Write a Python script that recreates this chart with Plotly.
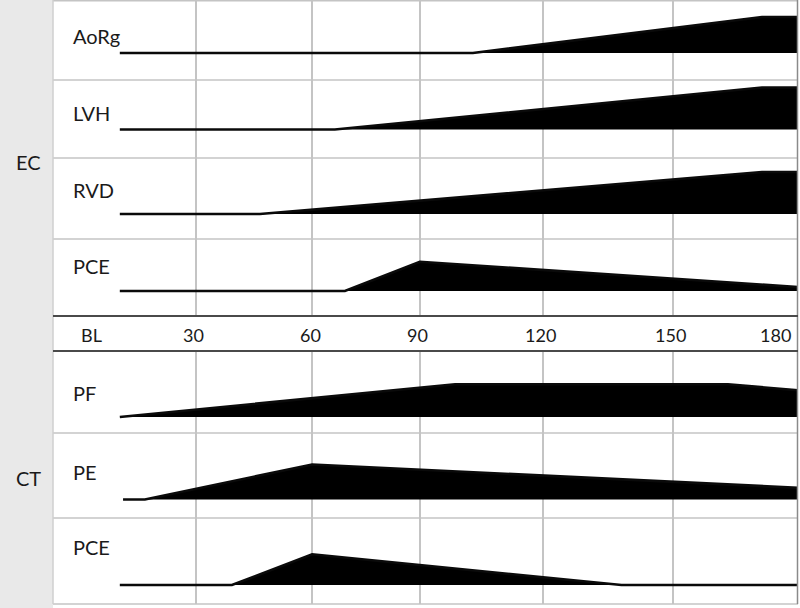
import plotly.graph_objects as go

W, H = 800, 608

# ---------------- data (schematic timeline units) ----------------
visit_labels = ["BL", "30", "60", "90", "120", "150", "180"]
visit_pos = [6.0, 31.3, 60.0, 86.6, 117.0, 149.1, 175.0]

group_labels = ["EC", "CT"]
row_names = ["AoRg", "LVH", "RVD", "PCE", "PF", "PE", "PCE"]

aorg_x = [12.5, 99.7, 171.1, 180.0]
aorg_y = [0, 0, 36, 36]
lvh_x = [12.5, 65.6, 171.1, 180.0]
lvh_y = [0, 0, 42, 42]
rvd_x = [12.5, 47.1, 171.1, 180.0]
rvd_y = [0, 0, 42, 42]
ec_pce_x = [12.5, 68.1, 86.6, 180.0]
ec_pce_y = [0, 0, 29.3, 4]
pf_x = [12.5, 95.3, 162.7, 180.0]
pf_y = [0, 32.7, 32.7, 26.7]
pe_x = [13.3, 18.7, 60.0, 180.0]
pe_y = [0, 0, 35, 11.7]
ct_pce_x = [12.5, 40.2, 60.0, 136.4, 180.0]
ct_pce_y = [0, 0, 30.7, 0, 0]

series = [(aorg_x, aorg_y), (lvh_x, lvh_y), (rvd_x, rvd_y), (ec_pce_x, ec_pce_y),
          (pf_x, pf_y), (pe_x, pe_y), (ct_pce_x, ct_pce_y)]

# ---------------- layout geometry (pixels) ----------------
# (top, bottom, baseline, label centre y)
rows_px = [(0, 80, 53, 36), (80, 158, 129.5, 113), (158, 239, 214, 189.5),
           (239, 316, 291, 265.7), (351, 433, 417, 393), (433, 518, 499.5, 471.7),
           (518, 604, 585, 547)]
label_row_px = (316, 351)
group_y_px = [162, 477.5]
X0, X1 = 53, 798
XRANGE = [-4, 180]
FONT = "Lato"
TXT = "#1a1a1a"
GRID = "#c4c4c4"

fig = go.Figure()
layout = dict(width=W, height=H, margin=dict(l=0, r=0, t=0, b=0),
              paper_bgcolor="white", plot_bgcolor="white", showlegend=False)
annotations = []
shapes = []

xdom = [X0 / W, X1 / W]
for i, ((xs, ys), (top, bot, base, ly)) in enumerate(zip(series, rows_px), start=1):
    fig.add_trace(go.Scatter(x=xs, y=ys, mode="lines", fill="tozeroy",
                             fillcolor="#000000", line=dict(color="#0a0a0a", width=2.6),
                             xaxis=f"x{i}", yaxis=f"y{i}", hoverinfo="skip"))
    sfx = "" if i == 1 else str(i)
    layout[f"xaxis{sfx}"] = dict(domain=xdom, range=XRANGE, anchor=f"y{i}",
                                 tickvals=visit_pos[1:-1], showgrid=True, gridcolor=GRID,
                                 gridwidth=1.5, showticklabels=False, ticks="",
                                 zeroline=False, showline=False, fixedrange=True)
    layout[f"yaxis{sfx}"] = dict(domain=[1 - bot / H, 1 - top / H],
                                 range=[-(bot - base), base - top], anchor=f"x{i}",
                                 showgrid=False, zeroline=False, showticklabels=False,
                                 ticks="", showline=False, fixedrange=True)
    annotations.append(dict(x=71 / W, y=1 - ly / H, xref="paper", yref="paper",
                            text=row_names[i - 1], showarrow=False, xanchor="left",
                            yanchor="middle", font=dict(family=FONT, size=20, color=TXT)))

# label row axis
lt, lb = label_row_px
layout["xaxis8"] = dict(domain=xdom, range=XRANGE, anchor="y8", showgrid=False,
                        showticklabels=False, ticks="", zeroline=False, fixedrange=True)
layout["yaxis8"] = dict(domain=[1 - lb / H, 1 - lt / H], range=[-1, 1], anchor="x8",
                        showgrid=False, showticklabels=False, ticks="", zeroline=False,
                        fixedrange=True)
fig.add_trace(go.Scatter(x=[visit_pos[0]], y=[0], mode="markers",
                         marker=dict(opacity=0), xaxis="x8", yaxis="y8", hoverinfo="skip"))
for lbl, pos in zip(visit_labels, visit_pos):
    annotations.append(dict(x=pos, y=0, xref="x8", yref="y8", text=lbl, showarrow=False,
                            xshift=-2, yshift=-1, font=dict(family=FONT, size=18, color=TXT)))

for g, gy in zip(group_labels, group_y_px):
    annotations.append(dict(x=28 / W, y=1 - gy / H, xref="paper", yref="paper", text=g,
                            showarrow=False, xanchor="center", yanchor="middle",
                            font=dict(family=FONT, size=20, color=TXT)))

# background band and separators
shapes.append(dict(type="rect", xref="paper", yref="paper", x0=0, x1=X0 / W, y0=0, y1=1,
                   fillcolor="#e9e9e9", line=dict(width=0), layer="below"))
for yy in [0.7, 80, 158, 239, 433, 518, 604]:
    shapes.append(dict(type="line", xref="paper", yref="paper", x0=X0 / W, x1=X1 / W,
                       y0=1 - yy / H, y1=1 - yy / H, line=dict(color=GRID, width=1.5)))
shapes.append(dict(type="line", xref="paper", yref="paper", x0=X0 / W, x1=X0 / W,
                   y0=1 - 604 / H, y1=1, line=dict(color="#cfcfcf", width=1.5)))
shapes.append(dict(type="line", xref="paper", yref="paper", x0=797.5 / W, x1=797.5 / W,
                   y0=1 - 604 / H, y1=1, line=dict(color="#8a8a8a", width=1.5)))
for yy in label_row_px:
    shapes.append(dict(type="line", xref="paper", yref="paper", x0=X0 / W, x1=X1 / W,
                       y0=1 - yy / H, y1=1 - yy / H, line=dict(color="#4a4a4a", width=2)))

layout["annotations"] = annotations
layout["shapes"] = shapes
fig.update_layout(**layout)
fig.write_html("out.html", config={"displayModeBar": False},
               post_script="document.body.style.margin='0';"
                           "document.body.style.overflow='hidden';"
                           "document.documentElement.style.overflow='hidden';")
